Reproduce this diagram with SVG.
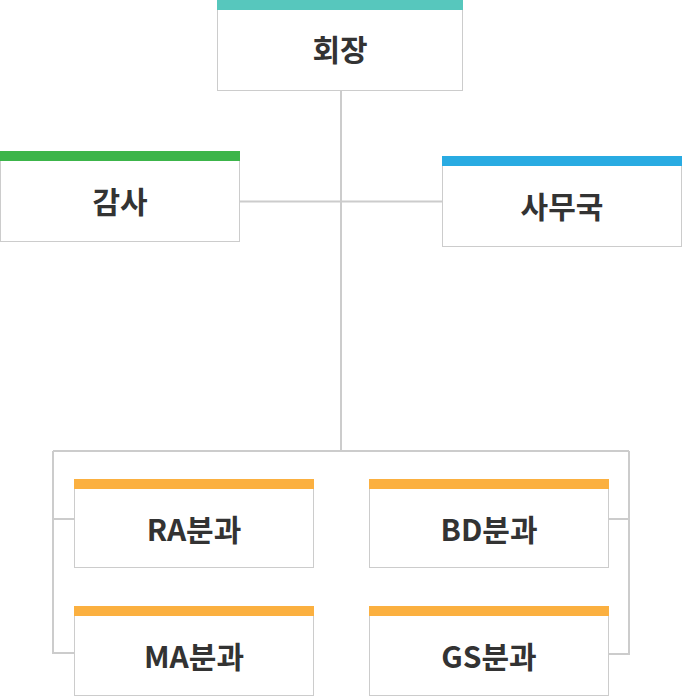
<svg xmlns="http://www.w3.org/2000/svg" width="682" height="696" viewBox="0 0 682 696">
<style>
.box{fill:#fff;stroke:#cccccc;stroke-width:1}
.lbl{font-family:"Noto Sans CJK KR","Noto Sans",sans-serif;font-weight:700;font-size:30px;fill:#333333;text-anchor:middle}
.ln{fill:none;stroke:#cccccc;stroke-width:2}
</style>
<rect width="682" height="696" fill="#ffffff"/>
<g id="connectors">
<path class="ln" d="M341,91 V451"/>
<path class="ln" d="M240,201.5 H442"/>
<path class="ln" d="M53,451 H629"/>
<path class="ln" d="M53,451 V653 H74"/>
<path class="ln" d="M53,519 H74"/>
<path class="ln" d="M629,451 V654 H609"/>
<path class="ln" d="M609,519 H629"/>
</g>
<g id="chairman">
<rect class="box" x="217.5" y="0.5" width="245" height="90"/>
<rect x="217" y="0" width="246" height="10" fill="#57c7bd"/>
<text class="lbl" x="340" y="61">회장</text>
</g>
<g id="audit">
<rect class="box" x="0.5" y="151.5" width="239" height="90"/>
<rect x="0" y="151" width="240" height="10" fill="#3cb54a"/>
<text class="lbl" x="120" y="213">감사</text>
</g>
<g id="secretariat">
<rect class="box" x="442.5" y="156.5" width="239" height="90"/>
<rect x="442" y="156" width="240" height="10" fill="#29abe2"/>
<text class="lbl" x="562" y="218">사무국</text>
</g>
<g id="ra">
<rect class="box" x="74.5" y="479.5" width="239" height="88"/>
<rect x="74" y="479" width="240" height="10" fill="#fbb040"/>
<text class="lbl" x="194" y="541">RA분과</text>
</g>
<g id="bd">
<rect class="box" x="369.5" y="479.5" width="239" height="88"/>
<rect x="369" y="479" width="240" height="10" fill="#fbb040"/>
<text class="lbl" x="489" y="541">BD분과</text>
</g>
<g id="ma">
<rect class="box" x="74.5" y="606.5" width="239" height="89"/>
<rect x="74" y="606" width="240" height="10" fill="#fbb040"/>
<text class="lbl" x="194" y="668">MA분과</text>
</g>
<g id="gs">
<rect class="box" x="369.5" y="606.5" width="239" height="89"/>
<rect x="369" y="606" width="240" height="10" fill="#fbb040"/>
<text class="lbl" x="489" y="668">GS분과</text>
</g>
</svg>
